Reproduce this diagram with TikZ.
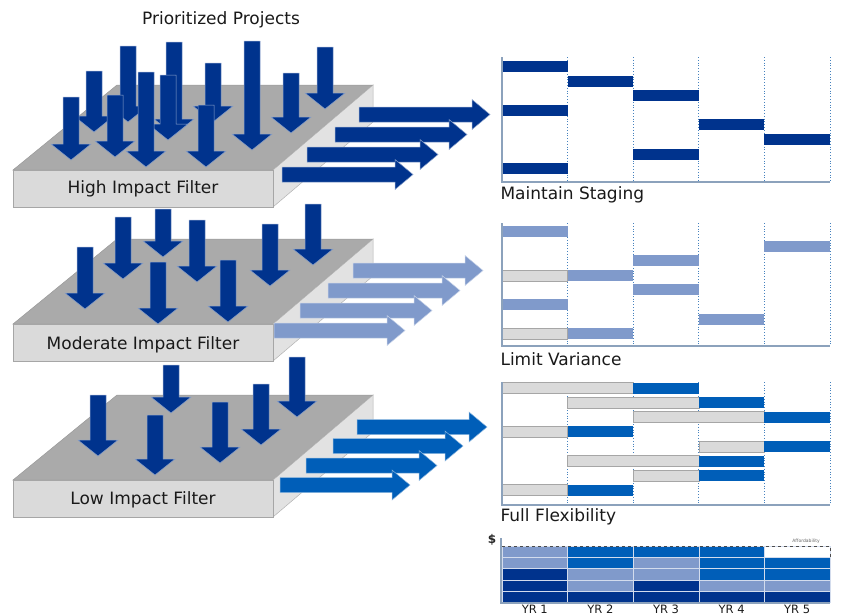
\documentclass[tikz,border=0pt]{standalone}
\usepackage{fontspec}
\setmainfont{DejaVu Sans}
\usetikzlibrary{shapes}

\definecolor{darkblue}{RGB}{0,51,141}
\definecolor{lightblue}{RGB}{128,154,203}
\definecolor{midblue}{RGB}{0,94,184}
\definecolor{slabtop}{RGB}{170,170,170}
\definecolor{slabfront}{RGB}{218,218,218}
\definecolor{slabside}{RGB}{226,226,226}
\definecolor{barfill}{RGB}{218,218,218}
\definecolor{axisline}{RGB}{140,162,188}
\definecolor{gridblue}{RGB}{70,130,190}

\begin{document}
\begin{tikzpicture}[x=1pt,y=-1pt,
  lbl/.style={font=\fontsize{17}{20}\selectfont,text=black!90},
  yrlbl/.style={font=\fontsize{11.5}{12}\selectfont,text=black!90,inner sep=0pt},
  topface/.style={fill=slabtop,draw=gray!80,line width=0.5pt},
  frontface/.style={fill=slabfront,draw=gray!70,line width=0.5pt},
  sideface/.style={fill=slabside,draw=gray!60,line width=0.5pt},
  axis/.style={draw=axisline,line width=1.2pt},
  colline/.style={draw=gridblue,dotted,line width=0.8pt},
  graybar/.style={fill=barfill,draw=gray!70,line width=0.5pt},
  arr/.style={draw=white!55!#1,fill=#1,line width=0.5pt}]
\useasboundingbox (0,0) rectangle (841,616);

\node[lbl] (prio) at (221,20) {Prioritized Projects};

% filter slabs
\foreach \t in {85,239,395} {
  \draw[topface] (13,\t+85) -- (117,\t) -- (373,\t) -- (273,\t+85) -- cycle;
  \draw[sideface] (273,\t+85) -- (373,\t) -- (373,\t+37) -- (273,\t+122) -- cycle;
  \draw[frontface] (13,\t+85) rectangle (273,\t+122);
}
\node[lbl] (hifilter) at (143,188.5) {High Impact Filter};
\node[lbl] (modfilter) at (143,344.5) {Moderate Impact Filter};
\node[lbl] (lowfilter) at (143,500) {Low Impact Filter};

% projects falling onto the filters
\foreach \x/\a/\b in {325/47/109, 128/46/122, 213/63/122, 94/71/132, 291/73/133, 174/42/135,
  168/75/140, 252/41/150, 115/95/157, 71/97/160, 146/72/167, 206/105/167,
  163/209/257, 313/204/265, 123/217/279, 197/220/282, 270/224/286, 85/247/309, 228/260/322, 158/262/324,
  171/365/413, 297/357/417, 261/384/445, 98/395/456, 220/402/463, 155/415/475}
  \draw[arr=darkblue] (\x-8,\a) -- (\x+8,\a) -- (\x+8,\b-16) -- (\x+20,\b-16) -- (\x,\b)
    -- (\x-20,\b-16) -- (\x-8,\b-16) -- cycle;

% projects passing the filters
\foreach \l/\y/\r/\c in {359/114.5/490/darkblue, 335/134.5/467/darkblue, 307/154.5/438/darkblue, 282/174.5/413/darkblue,
  353/270.5/483/lightblue, 328/290.5/460/lightblue, 300/310.5/432/lightblue, 274/330.5/405/lightblue,
  357/427/487/midblue, 333/446/463/midblue, 306/465.5/437/midblue, 280/485/410/midblue}
  \draw[arr=\c] (\l,\y-7.5) -- (\r-18,\y-7.5) -- (\r-18,\y-15) -- (\r,\y) -- (\r-18,\y+15)
    -- (\r-18,\y+7.5) -- (\l,\y+7.5) -- cycle;

% maintain staging
\foreach \i in {1,...,5} \draw[colline] (502+65.6*\i,57) -- (502+65.6*\i,182);
\foreach \r/\g/\s/\e in {1/0/0/1, 2/1/1/2, 3/2/2/3, 4/0/0/1, 5/3/3/4, 6/4/4/5, 7/2/2/3, 8/0/0/1}
  \fill[darkblue] (502+65.6*\s,46.4+14.6*\r) rectangle (502+65.6*\e,57.4+14.6*\r);
\draw[axis] (502,57) -- (502,182) -- (830,182);
\node[lbl,anchor=west] (staging) at (497,195) {Maintain Staging};

% limit variance
\foreach \i in {1,...,5} \draw[colline] (502+65.6*\i,223) -- (502+65.6*\i,346);
\foreach \r/\g/\s/\e in {1/0/0/1, 2/4/4/5, 3/2/2/3, 4/0/1/2, 5/2/2/3, 6/0/0/1, 7/3/3/4, 8/0/1/2} {
  \ifnum\g<\s \draw[graybar] (502+65.6*\g,211.4+14.6*\r) rectangle (502+65.6*\s,222.4+14.6*\r); \fi
  \fill[lightblue] (502+65.6*\s,211.4+14.6*\r) rectangle (502+65.6*\e,222.4+14.6*\r);
}
\draw[axis] (502,223) -- (502,346) -- (830,346);
\node[lbl,anchor=west] (variance) at (497,359) {Limit Variance};

% full flexibility
\foreach \i in {1,...,5} \draw[colline] (502+65.6*\i,382) -- (502+65.6*\i,505);
\foreach \r/\g/\s/\e in {1/0/2/3, 2/1/3/4, 3/2/4/5, 4/0/1/2, 5/3/4/5, 6/1/3/4, 7/2/3/4, 8/0/1/2} {
  \draw[graybar] (502+65.6*\g,367.9+14.6*\r) rectangle (502+65.6*\s,378.9+14.6*\r);
  \fill[midblue] (502+65.6*\s,367.9+14.6*\r) rectangle (502+65.6*\e,378.9+14.6*\r);
}
\draw[axis] (502,382) -- (502,505) -- (830,505);
\node[lbl,anchor=west] (flex) at (497,517) {Full Flexibility};

% yearly spend
\foreach \i/\ca/\cb/\cc/\cd/\ce in {0/lightblue/lightblue/darkblue/darkblue/darkblue,
  1/midblue/midblue/lightblue/lightblue/darkblue, 2/midblue/lightblue/lightblue/darkblue/darkblue,
  3/midblue/midblue/midblue/lightblue/darkblue, 4/white/midblue/midblue/lightblue/darkblue}
  \foreach \k/\c in {0/\ca,1/\cb,2/\cc,3/\cd,4/\ce}
    \filldraw[fill=\c,draw=white!65!lightblue,line width=0.6pt] (502+65.6*\i,546+11.3*\k) rectangle +(65.6,11.3);
\draw[dashed,black!70,line width=0.8pt] (502,546) -- (830,546) -- (830,557.3);
\draw[axis] (501,538) -- (501,603) -- (830,603);
\node[font=\bfseries\fontsize{12}{14}\selectfont,text=black!85] (dollar) at (492,540) {\$};
\node[font=\fontsize{4.5}{5}\selectfont,text=black!60] (afford) at (806,541) {Affordability};
\foreach \i in {1,...,5} \node[yrlbl,anchor=base] (yr\i) at (502+65.6*\i-32.8,613.5) {YR \i};
\end{tikzpicture}
\end{document}
